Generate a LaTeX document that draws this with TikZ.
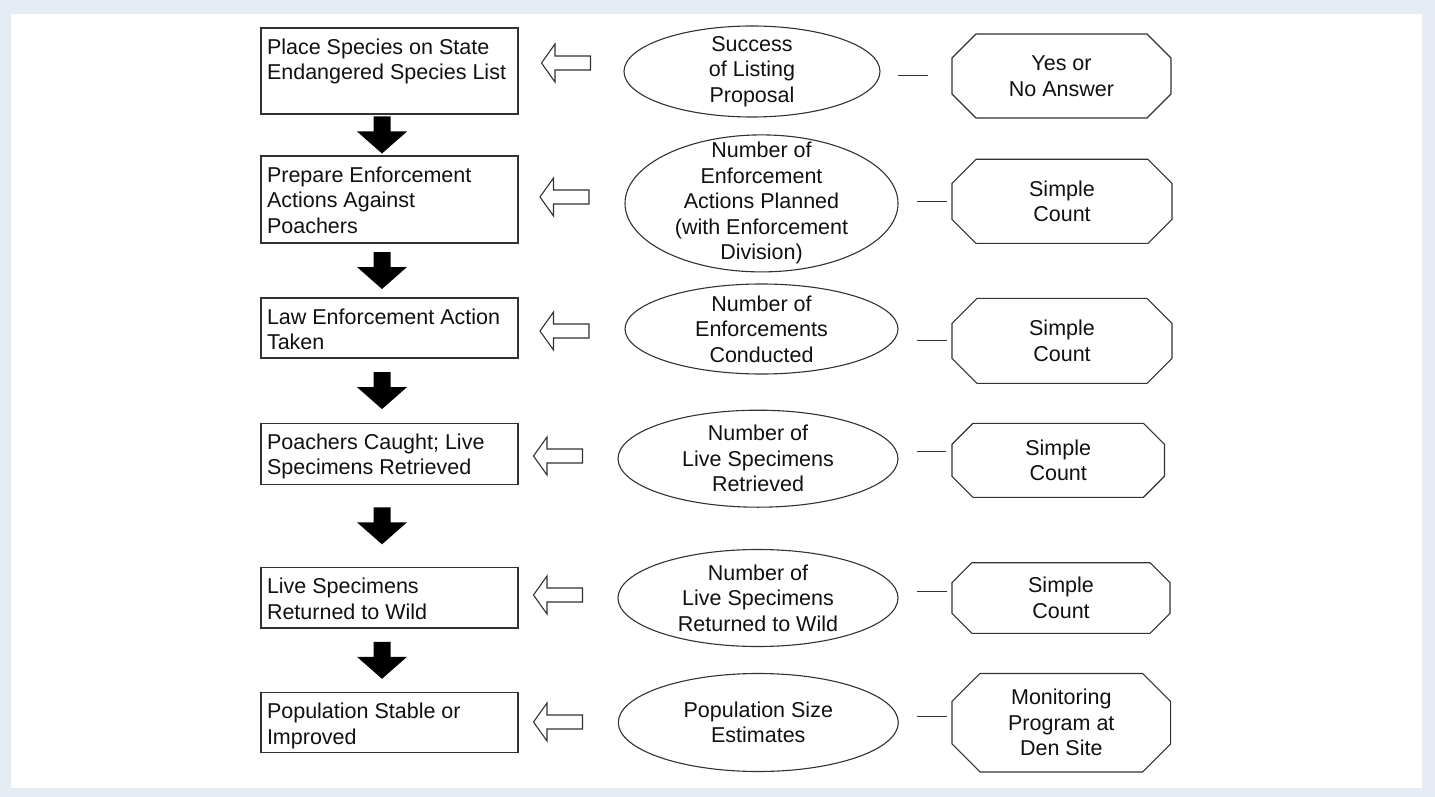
\documentclass[tikz,border=0pt]{standalone}
\usepackage{fontspec}
\setmainfont{Liberation Sans}
\usetikzlibrary{calc,shapes.geometric}
\definecolor{frame}{RGB}{229,236,244}
\definecolor{ink}{RGB}{17,17,17}
\definecolor{edge}{RGB}{50,50,50}

\begin{document}
\begin{tikzpicture}[x=1pt,y=-1pt,
  every node/.style={inner sep=0pt, outer sep=0pt, text=ink,
    font=\fontsize{21.5}{25.5}\selectfont},
  stepbox/.style={draw=edge, line width=1.2pt, minimum width=257pt},
  steptext/.style={anchor=north west, align=left},
  measure/.style={ellipse, draw=edge, line width=1.1pt},
  mtext/.style={align=center},
  method/.style={draw=none, align=center},
  octline/.style={draw=edge, line width=1.1pt},
  link/.style={draw=edge, line width=1pt},
  flowarrow/.pic={\fill[black] (-8.5,-18.5) -- (8.5,-18.5) -- (8.5,-3.5) -- (25,-3.5)
      -- (0,18.5) -- (-25,-3.5) -- (-8.5,-3.5) -- cycle;},
  feedarrow/.pic={\draw[draw=edge, line width=1.1pt, fill=white] (-24.5,0) -- (-11,-19)
      -- (-11,-7) -- (24.5,-7) -- (24.5,7) -- (-11,7) -- (-11,19) -- cycle;},
]

% page frame
\fill[frame] (0,0) rectangle (1435,797);
\fill[white] (11,14) rectangle (1422,788);
\useasboundingbox (0,0) rectangle (1435,797);

% chain of steps
\node[stepbox, minimum height=86pt] (b1) at (389.5,71) {};
\node[stepbox, minimum height=87pt] (b2) at (389.5,199.5) {};
\node[stepbox, minimum height=60pt] (b3) at (389.5,328) {};
\node[stepbox, minimum height=61pt] (b4) at (389.5,453.7) {};
\node[stepbox, minimum height=60.5pt] (b5) at (389.5,597.7) {};
\node[stepbox, minimum height=60pt] (b6) at (389.5,722.7) {};

\node[steptext] (b1t) at ([xshift=6pt,yshift=-10.5pt]b1.north west) {Place Species on State\\Endangered Species List};
\node[steptext] (b2t) at ([xshift=6pt,yshift=-10.5pt]b2.north west) {Prepare Enforcement\\Actions Against\\Poachers};
\node[steptext] (b3t) at ([xshift=6pt,yshift=-10.5pt]b3.north west) {Law Enforcement Action\\Taken};
\node[steptext] (b4t) at ([xshift=6pt,yshift=-10.5pt]b4.north west) {Poachers Caught; Live\\Specimens Retrieved};
\node[steptext] (b5t) at ([xshift=6pt,yshift=-10.5pt]b5.north west) {Live Specimens\\Returned to Wild};
\node[steptext] (b6t) at ([xshift=6pt,yshift=-10.5pt]b6.north west) {Population Stable or\\Improved};

% solid arrows between steps
\foreach \a/\b in {b1/b2,b2/b3,b3/b4,b4/b5,b5/b6}
  \pic at ($(\a.south)!0.5!(\b.north)+(-7.5,0)$) {flowarrow};

% measures
\node[measure, minimum width=256pt, minimum height=91pt] (e1) at (752,71.5) {};
\node[measure, minimum width=273pt, minimum height=137pt] (e2) at (761.5,203.4) {};
\node[measure, minimum width=273pt, minimum height=90pt] (e3) at (761.5,329) {};
\node[measure, minimum width=280pt, minimum height=97pt] (e4) at (758,458.7) {};
\node[measure, minimum width=280pt, minimum height=97pt] (e5) at (758,598) {};
\node[measure, minimum width=280pt, minimum height=98pt] (e6) at (758.3,722.5) {};

\node[mtext] (e1t) at (e1) {Success\\of Listing\\Proposal};
\node[mtext] (e2t) at (e2) {Number of\\Enforcement\\Actions Planned\\(with Enforcement\\Division)};
\node[mtext] (e3t) at (e3) {Number of\\Enforcements\\Conducted};
\node[mtext] (e4t) at (e4) {Number of\\Live Specimens\\Retrieved};
\node[mtext] (e5t) at (e5) {Number of\\Live Specimens\\Returned to Wild};
\node[mtext] (e6t) at (e6) {Population Size\\Estimates};

% hollow arrows from measures back to steps
\pic at ($(b1.east)+(48,-8)$) {feedarrow};
\pic at ($(b2.east)+(46.5,-2.5)$) {feedarrow};
\pic at ($(b3.east)+(46.5,3)$) {feedarrow};
\pic at ($(b4.east)+(40,2.3)$) {feedarrow};
\pic at ($(b5.east)+(40,-2.7)$) {feedarrow};
\pic at ($(b6.east)+(40,-0.7)$) {feedarrow};

% methods
\node[method, minimum width=219pt, minimum height=84pt] (o1) at (1061.5,76) {Yes or\\No Answer};
\node[method, minimum width=220pt, minimum height=84pt] (o2) at (1062,201.3) {Simple\\Count};
\node[method, minimum width=220pt, minimum height=85pt] (o3) at (1062,340.8) {Simple\\Count};
\node[method, minimum width=212.5pt, minimum height=74pt] (o4) at (1058.2,460.3) {Simple\\Count};
\node[method, minimum width=218pt, minimum height=70.6pt] (o5) at (1061,598) {Simple\\Count};
\node[method, minimum width=218.6pt, minimum height=98.5pt] (o6) at (1061.3,722.7) {Monitoring\\Program at\\Den Site};

\foreach \n/\c in {o1/24,o2/24,o3/25,o4/21,o5/20,o6/28}
  \draw[octline] ([xshift=\c pt]\n.north west) -- ([xshift=-\c pt]\n.north east)
    -- ([yshift=-\c pt]\n.north east) -- ([yshift=\c pt]\n.south east)
    -- ([xshift=-\c pt]\n.south east) -- ([xshift=\c pt]\n.south west)
    -- ([yshift=\c pt]\n.south west) -- ([yshift=-\c pt]\n.north west) -- cycle;

% short links from measures to methods
\draw[link] ([xshift=-54pt]o1.west) -- ([xshift=-24pt]o1.west);
\draw[link] ([xshift=-35pt]o2.west) -- ([xshift=-5.5pt]o2.west);
\draw[link] ([xshift=-35pt]o3.west) -- ([xshift=-5.5pt]o3.west);
\draw[link] ([xshift=-35pt,yshift=8.6pt]o4.west) -- ([xshift=-5.5pt,yshift=8.6pt]o4.west);
\draw[link] ([xshift=-35pt,yshift=7pt]o5.west) -- ([xshift=-5.5pt,yshift=7pt]o5.west);
\draw[link] ([xshift=-35pt,yshift=6pt]o6.west) -- ([xshift=-5.5pt,yshift=6pt]o6.west);
\end{tikzpicture}
\end{document}
